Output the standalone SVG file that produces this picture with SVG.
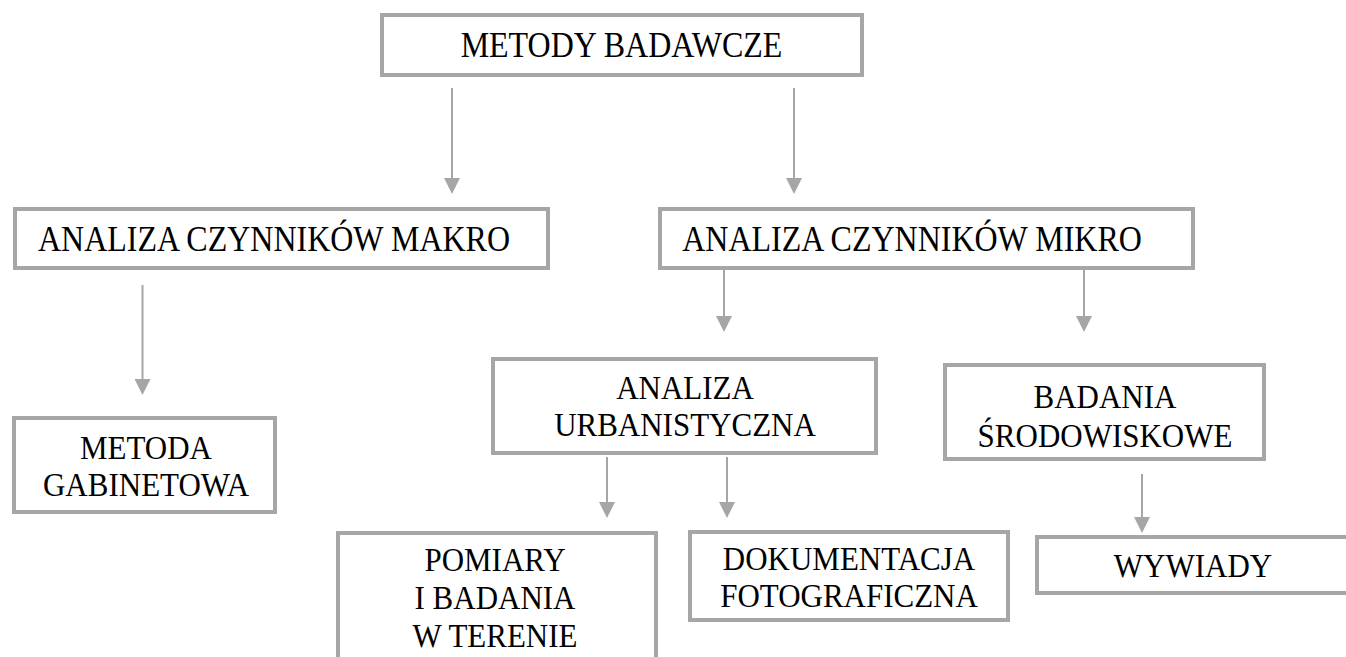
<svg xmlns="http://www.w3.org/2000/svg" width="1346" height="657" viewBox="0 0 1346 657">
  <style>
    .box { fill: #ffffff; stroke: #a6a6a6; stroke-width: 4; }
    .lbl { font-family: "Liberation Serif", "Times New Roman", serif; font-size: 32px; fill: #000000; text-anchor: middle; }
    .sm { font-size: 31px; }
    .conn { stroke: #a6a6a6; stroke-width: 2; fill: none; marker-end: url(#head); }
  </style>
  <defs>
    <marker id="head" markerUnits="userSpaceOnUse" markerWidth="16" markerHeight="16" refX="8" refY="8" orient="auto">
      <path d="M0,0 L16,8 L0,16 Z" fill="#a6a6a6"/>
    </marker>
  </defs>
  <rect width="1346" height="657" fill="#ffffff"/>

  <!-- arrows between levels -->
  <g id="connectors">
    <line class="conn" x1="452" y1="88" x2="452" y2="186"/>
    <line class="conn" x1="794" y1="88" x2="794" y2="186"/>
    <line class="conn" x1="142.5" y1="285" x2="142.5" y2="387"/>
    <line class="conn" x1="724" y1="267" x2="724" y2="324"/>
    <line class="conn" x1="1084" y1="267" x2="1084" y2="324"/>
    <line class="conn" x1="607" y1="457" x2="607" y2="510"/>
    <line class="conn" x1="727" y1="457" x2="727" y2="510"/>
    <line class="conn" x1="1142" y1="474" x2="1142" y2="525"/>
  </g>

  <!-- labels are slightly stretched vertically (scale 1 1.1 about the baseline) -->
  <g id="metody-badawcze">
    <rect class="box" x="382" y="15" width="480" height="60"/>
    <text class="lbl" transform="translate(621.5 57) scale(1 1.1)">METODY BADAWCZE</text>
  </g>

  <g id="czynniki-makro">
    <rect class="box" x="15" y="209" width="533" height="59"/>
    <text class="lbl" transform="translate(274 251) scale(1 1.1)">ANALIZA CZYNNIKÓW MAKRO</text>
  </g>

  <g id="czynniki-mikro">
    <rect class="box" x="660" y="209" width="533" height="59"/>
    <text class="lbl" transform="translate(912 251) scale(1 1.1)">ANALIZA CZYNNIKÓW MIKRO</text>
  </g>

  <g id="metoda-gabinetowa">
    <rect class="box" x="14" y="418" width="261" height="94"/>
    <text class="lbl sm" transform="translate(146 459) scale(1 1.1)">METODA</text>
    <text class="lbl sm" transform="translate(146 496) scale(1 1.1)">GABINETOWA</text>
  </g>

  <g id="analiza-urbanistyczna">
    <rect class="box" x="493" y="359" width="383" height="94"/>
    <text class="lbl sm" transform="translate(685 399) scale(1 1.1)">ANALIZA</text>
    <text class="lbl sm" transform="translate(685 436) scale(1 1.1)">URBANISTYCZNA</text>
  </g>

  <g id="badania-srodowiskowe">
    <rect class="box" x="945" y="365" width="319" height="94"/>
    <text class="lbl sm" transform="translate(1105 408) scale(1 1.1)">BADANIA</text>
    <text class="lbl sm" transform="translate(1105 447) scale(1 1.1)">ŚRODOWISKOWE</text>
  </g>

  <g id="pomiary">
    <rect class="box" x="338" y="533" width="318" height="140"/>
    <text class="lbl sm" transform="translate(495 571) scale(1 1.1)">POMIARY</text>
    <text class="lbl sm" transform="translate(495 609) scale(1 1.1)">I BADANIA</text>
    <text class="lbl sm" transform="translate(495 647) scale(1 1.1)">W TERENIE</text>
  </g>

  <g id="dokumentacja">
    <rect class="box" x="690" y="532" width="318" height="88"/>
    <text class="lbl sm" transform="translate(849 570) scale(1 1.1)">DOKUMENTACJA</text>
    <text class="lbl sm" transform="translate(849 607) scale(1 1.1)">FOTOGRAFICZNA</text>
  </g>

  <g id="wywiady">
    <rect class="box" x="1037" y="537" width="330" height="56"/>
    <text class="lbl sm" transform="translate(1193 577) scale(1 1.1)">WYWIADY</text>
  </g>
</svg>
